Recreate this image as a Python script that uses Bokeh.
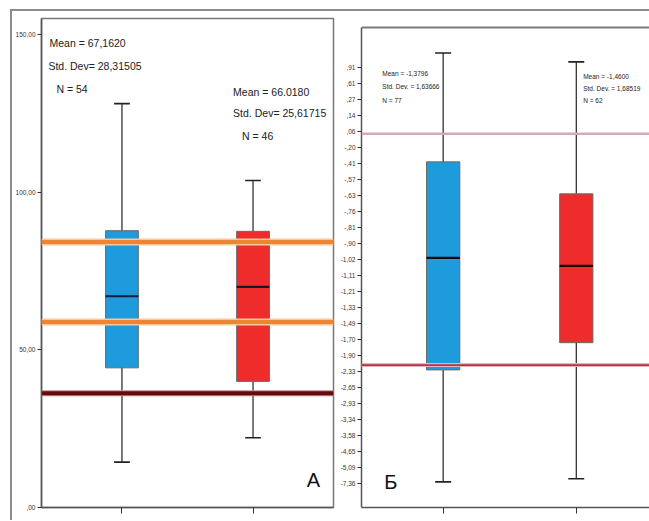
from bokeh.plotting import figure
from bokeh.layouts import row
from bokeh.models import Range1d, FixedTicker, Span, Label, ColumnDataSource
from bokeh.embed import file_html
from bokeh.resources import INLINE

# ---------------- data: panel A ----------------
a_pos = [1, 2]
a_colors = ["#1E9BDD", "#EE2C2C"]
a_q1 = [44.3, 40.0]
a_median = [67.0, 70.0]
a_q3 = [87.8, 87.6]
a_low = [14.4, 22.1]
a_high = [128.1, 103.7]
a_ticks = [0, 50, 100, 150]
a_tick_labels = [",00", "50,00", "100,00", "150,00"]
a_orange_lines = [84.2, 58.8]
a_dark_line = 36.2
a_stats1 = ["Mean = 67,1620", "Std. Dev= 28,31505", "N =  54"]
a_stats2 = ["Mean = 66.0180", "Std. Dev= 25,61715", "N =  46"]

# ---------------- data: panel Б (positions on the ordinal tick scale) ----------------
b_tick_labels = [",91", ",61", ",27", ",14", ",06", "-,20", "-,41", "-,57", "-,63", "-,76",
                 "-,81", "-,90", "-1,02", "-1,11", "-1,21", "-1,33", "-1,49", "-1,70", "-1,90",
                 "-2,33", "-2,65", "-2,93", "-3,34", "-3,58", "-4,65", "-5,09", "-7,36"]
b_pos = [1, 2]
b_colors = ["#1E9BDD", "#EE2C2C"]
b_high = [-0.9, -0.35]
b_q3 = [5.9, 7.9]
b_median = [11.9, 12.4]
b_q1 = [18.9, 17.2]
b_low = [25.9, 25.7]
b_pink_line = 4.15
b_red_line = 18.6
b_stats1 = ["Mean = -1,3796", "Std. Dev. = 1,63666", "N = 77"]
b_stats2 = ["Mean = -1,4600", "Std. Dev. = 1,68519", "N = 62"]

FONT = "Liberation Sans"
BOX_W = 0.25
CAP_W = 0.12


def style_common(p):
    p.xgrid.visible = False
    p.ygrid.visible = False
    p.background_fill_color = "white"
    p.border_fill_color = "white"


def draw_boxes(p, pos, q1, med, q3, low, high, colors, med_color):
    src = ColumnDataSource(dict(
        x=pos, q1=q1, med=med, q3=q3, low=low, high=high, color=colors,
        cl=[x - CAP_W / 2 for x in pos], cr=[x + CAP_W / 2 for x in pos],
        bl=[x - BOX_W / 2 for x in pos], br=[x + BOX_W / 2 for x in pos],
    ))
    p.segment(x0="x", y0="low", x1="x", y1="high", source=src, line_color="#222222", line_width=1.2)
    p.segment(x0="cl", y0="low", x1="cr", y1="low", source=src, line_color="#222222", line_width=1.6)
    p.segment(x0="cl", y0="high", x1="cr", y1="high", source=src, line_color="#222222", line_width=1.6)
    p.vbar(x="x", width=BOX_W, bottom="q1", top="q3", source=src, fill_color="color",
           line_color="#6a6a6a", line_width=1)
    p.segment(x0="bl", y0="med", x1="br", y1="med", source=src, line_color=med_color, line_width=2.2)


def style_axis(ax):
    ax.axis_line_color = "#555555"
    ax.axis_line_width = 1.5
    ax.major_tick_line_color = "#333333"
    ax.major_tick_in = 0
    ax.major_tick_out = 4
    ax.minor_tick_line_color = None
    ax.major_label_text_font = FONT
    ax.major_label_text_font_size = "6.5px"
    ax.major_label_text_color = "#333333"
    ax.major_label_standoff = 2


def style_xaxis(ax, ticks):
    ax.ticker = FixedTicker(ticks=ticks)
    ax.major_label_overrides = {t: "" for t in ticks}
    ax.major_tick_out = 6
    ax.major_label_text_font_size = "1px"
    ax.major_label_standoff = 0


# ---------------- Panel A ----------------
pa = figure(width=325, height=509, output_backend="svg", toolbar_location=None,
            x_range=Range1d(0.386, 2.614), y_range=Range1d(0, 155.1),
            min_border_left=27, min_border_right=4, min_border_top=7, min_border_bottom=13)
style_common(pa)
pa.outline_line_color = "#777777"
pa.outline_line_width = 1.5

for loc in a_orange_lines:
    pa.add_layout(Span(location=loc, dimension="width", line_color="#F7C79E", line_width=7))
    pa.add_layout(Span(location=loc, dimension="width", line_color="#EE8535", line_width=4))
pa.add_layout(Span(location=a_dark_line, dimension="width", line_color="#C98A8A", line_width=6))
pa.add_layout(Span(location=a_dark_line, dimension="width", line_color="#650A0E", line_width=4))

draw_boxes(pa, a_pos, a_q1, a_median, a_q3, a_low, a_high, a_colors, "#141833")

pa.yaxis.ticker = FixedTicker(ticks=a_ticks)
pa.yaxis.major_label_overrides = {t: l for t, l in zip(a_ticks, a_tick_labels)}
style_axis(pa.xaxis[0])
style_axis(pa.yaxis[0])
style_xaxis(pa.xaxis[0], a_pos)

for t, x, y in zip(a_stats1, [0.447, 0.439, 0.50], [147.2, 139.9, 132.6]):
    pa.add_layout(Label(x=x, y=y, text=t, text_font=FONT, text_font_size="10.5px",
                        text_baseline="middle", text_color="#222222"))
for t, x, y in zip(a_stats2, [1.848, 1.848, 1.916], [131.9, 125.0, 117.7]):
    pa.add_layout(Label(x=x, y=y, text=t, text_font=FONT, text_font_size="10.5px",
                        text_baseline="middle", text_color="#222222"))
pa.add_layout(Label(x=2.409, y=8.6, text="A", text_font=FONT, text_font_size="20px",
                    text_baseline="middle", text_color="#111111"))

# ---------------- Panel Б ----------------
pb = figure(width=312, height=509, output_backend="svg", toolbar_location=None,
            x_range=Range1d(0.3866, 2.550), y_range=Range1d(27.5, -3.06),
            min_border_left=21, min_border_right=0, min_border_top=7, min_border_bottom=13)
style_common(pb)
pb.outline_line_color = None

# top edge of the plotting area of panel Б
pb.add_layout(Span(location=-2.5, dimension="width", line_color="#7a7a7a", line_width=2))
pb.add_layout(Span(location=b_pink_line, dimension="width", line_color="#D9A8B8", line_width=2.5))
pb.add_layout(Span(location=b_red_line, dimension="width", line_color="#E6B3BA", line_width=4))
pb.add_layout(Span(location=b_red_line, dimension="width", line_color="#B0344A", line_width=1.8))

draw_boxes(pb, b_pos, b_q1, b_median, b_q3, b_low, b_high, b_colors, "#1a0808")

b_ticks = list(range(len(b_tick_labels)))
pb.yaxis.ticker = FixedTicker(ticks=b_ticks)
pb.yaxis.major_label_overrides = {t: l for t, l in zip(b_ticks, b_tick_labels)}
pb.yaxis.bounds = (-2.5, 27.5)
style_axis(pb.xaxis[0])
style_axis(pb.yaxis[0])
style_xaxis(pb.xaxis[0], b_pos)

for t, y in zip(b_stats1, [0.375, 1.19, 2.06]):
    pb.add_layout(Label(x=0.543, y=y, text=t, text_font=FONT, text_font_size="6.5px",
                        text_baseline="middle", text_color="#222222"))
for t, y in zip(b_stats2, [0.56, 1.31, 2.06]):
    pb.add_layout(Label(x=2.052, y=y, text=t, text_font=FONT, text_font_size="6.5px",
                        text_baseline="middle", text_color="#222222"))
pb.add_layout(Label(x=0.558, y=25.9, text="Б", text_font=FONT, text_font_size="20px",
                    text_baseline="middle", text_color="#111111"))

layout = row(pa, pb, styles={"border-left": "2px solid #8c8c8c",
                             "border-top": "2px solid #8c8c8c",
                             "margin-left": "10px", "margin-top": "9px"})

open("out.html", "w").write(file_html(layout, INLINE))
